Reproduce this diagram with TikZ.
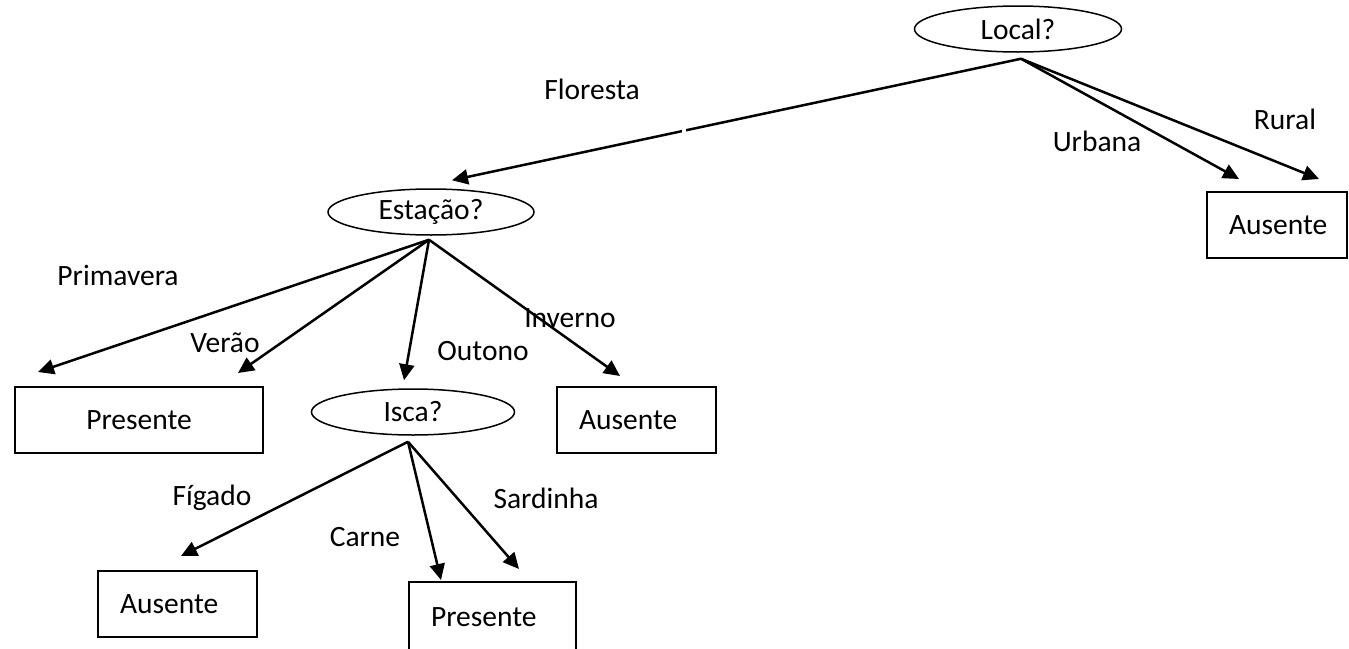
\documentclass[tikz,border=0pt]{standalone}
\usepackage{fontspec}
\setmainfont{Carlito}
\usetikzlibrary{arrows.meta,shapes.geometric,calc}

\begin{document}
\begin{tikzpicture}[x=1pt,y=-1pt,
  font=\fontsize{29.5}{34}\selectfont,
  decision/.style={ellipse, draw, line width=1.5pt, inner sep=0pt, minimum height=46pt},
  leaf/.style={rectangle, draw, line width=2pt, inner ysep=0pt, inner xsep=22pt,
               minimum height=66pt, align=left},
  branch/.style={line width=2.5pt, -{Triangle[length=16pt,width=15pt]}},
  lbl/.style={inner sep=0pt}]

\useasboundingbox (0,0) rectangle (1349,648);
\clip (0,0) rectangle (1349,648);

% questions
\node[decision, minimum width=207pt] (local)   at (1018,29)  {Local?};
\node[decision, minimum width=206pt] (estacao) at (431,212)  {Estação?};
\node[decision, minimum width=203pt] (isca)    at (413,412)  {Isca?};

% answers
\node[leaf, text width=96pt]                 (ausR)  at (1277,225)  {Ausente};
\node[leaf, text width=204pt, align=center]  (pres1) at (139,420)   {Presente};
\node[leaf, text width=115pt]                (ausM)  at (636.5,420) {Ausente};
\node[leaf, text width=115pt]                (ausBL) at (177.5,604) {Ausente};
\node[leaf, text width=123pt, minimum height=70pt] (pres2) at (492.5,617) {Presente};

% where the branches leave each question
\coordinate (sLocal) at ($(local.south)+(3,6)$);
\coordinate (sEst)   at ($(estacao.south)+(-2,4)$);
\coordinate (sIsca)  at ($(isca.south)+(-5,6)$);

% where the branches arrive
\coordinate (tFlor) at ($(estacao.north)+(21,-8)$);
\coordinate (tUrb)  at ($(ausR.north west)+(33,-12)$);
\coordinate (tRur)  at ($(ausR.north west)+(113,-12)$);
\coordinate (tPrim) at ($(pres1.north west)+(24,-14)$);
\coordinate (tVer)  at ($(pres1.north east)+(-26,-13)$);
\coordinate (tOut)  at ($(isca.north)+(-9,-8)$);
\coordinate (tInv)  at ($(ausM.north west)+(64,-10)$);
\coordinate (tFig)  at ($(ausBL.north west)+(84,-14)$);
\coordinate (tCar)  at ($(pres2.north west)+(33,-1)$);
\coordinate (tSar)  at ($(pres2.north west)+(111,-12)$);

% branches
\draw[branch] (sLocal) -- (tFlor);
\draw[branch] (sLocal) -- (tUrb);
\draw[branch] (sLocal) -- (tRur);
\draw[branch] (sEst) -- (tPrim);
\draw[branch] (sEst) -- (tVer);
\draw[branch] (sEst) -- (tOut);
\draw[branch] (sEst) -- (tInv);
\draw[branch] (sIsca) -- (tFig);
\draw[branch] (sIsca) -- (tCar);
\draw[branch] (sIsca) -- (tSar);

% break in the Floresta branch
\fill[white] (682,124) rectangle (686,140);

% branch labels
\node[lbl] (lFlor) at (592,89)   {Floresta};
\node[lbl] (lUrb)  at (1097,141) {Urbana};
\node[lbl] (lRur)  at (1285,119) {Rural};
\node[lbl] (lPrim) at (118,275)  {Primavera};
\node[lbl] (lVer)  at (225,343)  {Verão};
\node[lbl] (lOut)  at (483,351)  {Outono};
\node[lbl] (lInv)  at (570,318)  {Inverno};
\node[lbl] (lFig)  at (212,498)  {Fígado};
\node[lbl] (lCar)  at (365,537)  {Carne};
\node[lbl] (lSar)  at (546,498)  {Sardinha};
\end{tikzpicture}
\end{document}
